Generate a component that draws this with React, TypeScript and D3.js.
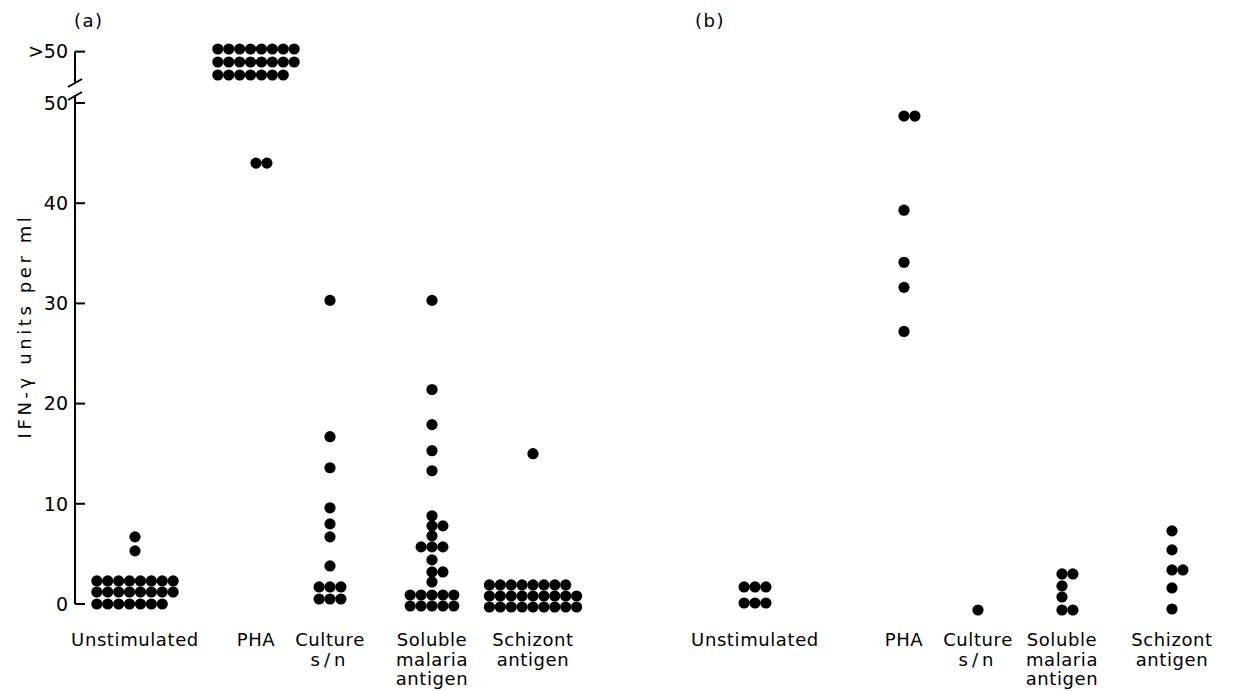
import React, { useEffect } from "react";
import * as d3 from "d3";

// ---- categories and tick labels ----
const CATEGORIES = ["Unstimulated", "PHA", "Culture s/n", "Soluble malaria antigen", "Schizont antigen"];
const CATEGORY_LINES = [["Unstimulated"], ["PHA"], ["Culture", "s/n"], ["Soluble", "malaria", "antigen"], ["Schizont", "antigen"]];
const Y_TICKS = [0, 10, 20, 30, 40, 50];
const OVER_LABEL = ">50";
const PANELS = ["(a)", "(b)"];

// ---- panel (a): rows of [value, number of dots] ----
const unstimA = [[0.0, 7], [1.2, 8], [2.3, 8], [5.3, 1], [6.7, 1]];
const phaA = [[44.0, 2]];
const phaAOver50 = [8, 8, 7]; // dots per row above the axis break (top to bottom)
const cultureA = [[0.5, 3], [1.7, 3], [3.8, 1], [6.7, 1], [8.0, 1], [9.6, 1], [13.6, 1], [16.7, 1], [30.3, 1]];
const solubleA = [[-0.2, 5], [0.9, 5], [2.2, 1], [3.2, 2], [4.4, 1], [5.7, 3], [6.8, 1], [7.8, 2], [8.8, 1], [13.3, 1], [15.3, 1], [17.9, 1], [21.4, 1], [30.3, 1]];
const schizontA = [[-0.3, 9], [0.8, 9], [1.9, 8], [15.0, 1]];

// ---- panel (b) ----
const unstimB = [[0.1, 3], [1.7, 3]];
const phaB = [[27.2, 1], [31.6, 1], [34.1, 1], [39.3, 1], [48.7, 2]];
const cultureB = [[-0.6, 1]];
const solubleB = [[-0.6, 2], [0.7, 1], [1.8, 1], [3.0, 2]];
const schizontB = [[-0.5, 1], [1.6, 1], [3.4, 2], [5.4, 1], [7.3, 1]];

const dataA = [unstimA, phaA, cultureA, solubleA, schizontA];
const dataB = [unstimB, phaB, cultureB, solubleB, schizontB];

// ---- layout ----
const W = 1238, H = 691;
const AXIS_X = 75;
const POS_A = [135, 256, 330, 432, 533];
const POS_B = [755, 904, 978, 1062, 1172];
const R = 5.6;
const STEP = 10.9;
const FONT = "'DejaVu Sans', Verdana, sans-serif";

const y = d3.scaleLinear().domain([0, 50]).range([604, 103]);
const yOver = d3.scaleLinear().domain([0, 2]).range([49, 75]);
const xA = d3.scaleOrdinal<string, number>().domain(CATEGORIES).range(POS_A);
const xB = d3.scaleOrdinal<string, number>().domain(CATEGORIES).range(POS_B);

function rowXs(n: number, maxN: number, anchor: number): number[] {
  let start: number;
  if (n <= 2) start = anchor;
  else if (n >= 5 && n < maxN) start = anchor - ((maxN - 1) / 2) * STEP;
  else start = anchor - ((n - 1) / 2) * STEP;
  return d3.range(n).map((i) => start + i * STEP);
}

function dotsFor(rows: number[][], anchor: number) {
  const maxN = d3.max(rows, (r) => r[1]) as number;
  const pts: { x: number; y: number }[] = [];
  rows.forEach(([v, n]) => {
    rowXs(n, maxN, anchor).forEach((x) => pts.push({ x, y: y(v) }));
  });
  return pts;
}

export default function App() {
  useEffect(() => {
    document.body.style.margin = "0";
  }, []);

  const dots: { x: number; y: number }[] = [];
  CATEGORIES.forEach((c, i) => {
    dots.push(...dotsFor(dataA[i], xA(c)));
    dots.push(...dotsFor(dataB[i], xB(c)));
  });
  // dots above the break (PHA, panel a)
  phaAOver50.forEach((n, row) => {
    rowXs(n, d3.max(phaAOver50) as number, xA("PHA")).forEach((x) =>
      dots.push({ x, y: yOver(row) })
    );
  });

  const breakC = (yOver(2) + y(50)) / 2 + 1;
  const overTickY = yOver(0.2);

  return (
    <svg width={W} height={H} style={{ display: "block", background: "#fff" }} fontFamily={FONT}>
      {/* panel labels */}
      <text x={74} y={27} fontSize={18} letterSpacing={1.5}>{PANELS[0]}</text>
      <text x={695} y={27} fontSize={18} letterSpacing={1.5}>{PANELS[1]}</text>

      {/* y axis */}
      <g stroke="#000" strokeWidth={2} fill="none">
        <line x1={AXIS_X} x2={AXIS_X} y1={overTickY} y2={breakC - 8} />
        <line x1={AXIS_X} x2={AXIS_X} y1={breakC + 5} y2={y(0)} />
        <line x1={AXIS_X - 7} y1={breakC - 3} x2={AXIS_X + 7} y2={breakC - 11} />
        <line x1={AXIS_X - 7} y1={breakC + 10} x2={AXIS_X + 7} y2={breakC + 2} />
        {Y_TICKS.map((t) => (
          <line key={t} x1={AXIS_X} x2={AXIS_X + 10} y1={y(t)} y2={y(t)} />
        ))}
        <line x1={AXIS_X} x2={AXIS_X + 10} y1={overTickY} y2={overTickY} />
      </g>
      <g fontSize={19} textAnchor="end">
        {Y_TICKS.map((t) => (
          <text key={t} x={AXIS_X - 7} y={y(t)} dy="0.36em">{t}</text>
        ))}
        <text x={AXIS_X - 7} y={overTickY} dy="0.36em">{OVER_LABEL}</text>
      </g>
      <text
        transform={`translate(31, ${326}) rotate(-90)`}
        textAnchor="middle"
        fontSize={18}
        letterSpacing={3.6}
      >
        IFN-γ units per ml
      </text>

      {/* dots */}
      <g fill="#000">
        {dots.map((d, i) => (
          <circle key={i} cx={d.x} cy={d.y} r={R} />
        ))}
      </g>

      {/* category labels */}
      <g fontSize={18} textAnchor="middle" letterSpacing={0.6}>
        {CATEGORIES.map((c, i) =>
          [xA(c), xB(c)].map((x, p) => (
            <text key={`${c}-${p}`} x={x} y={646}>
              {CATEGORY_LINES[i].map((line, k) => (
                <tspan key={k} x={x} dy={k === 0 ? 0 : 19.5} letterSpacing={line === "s/n" ? 4 : 0.6}>
                  {line}
                </tspan>
              ))}
            </text>
          ))
        )}
      </g>
    </svg>
  );
}
